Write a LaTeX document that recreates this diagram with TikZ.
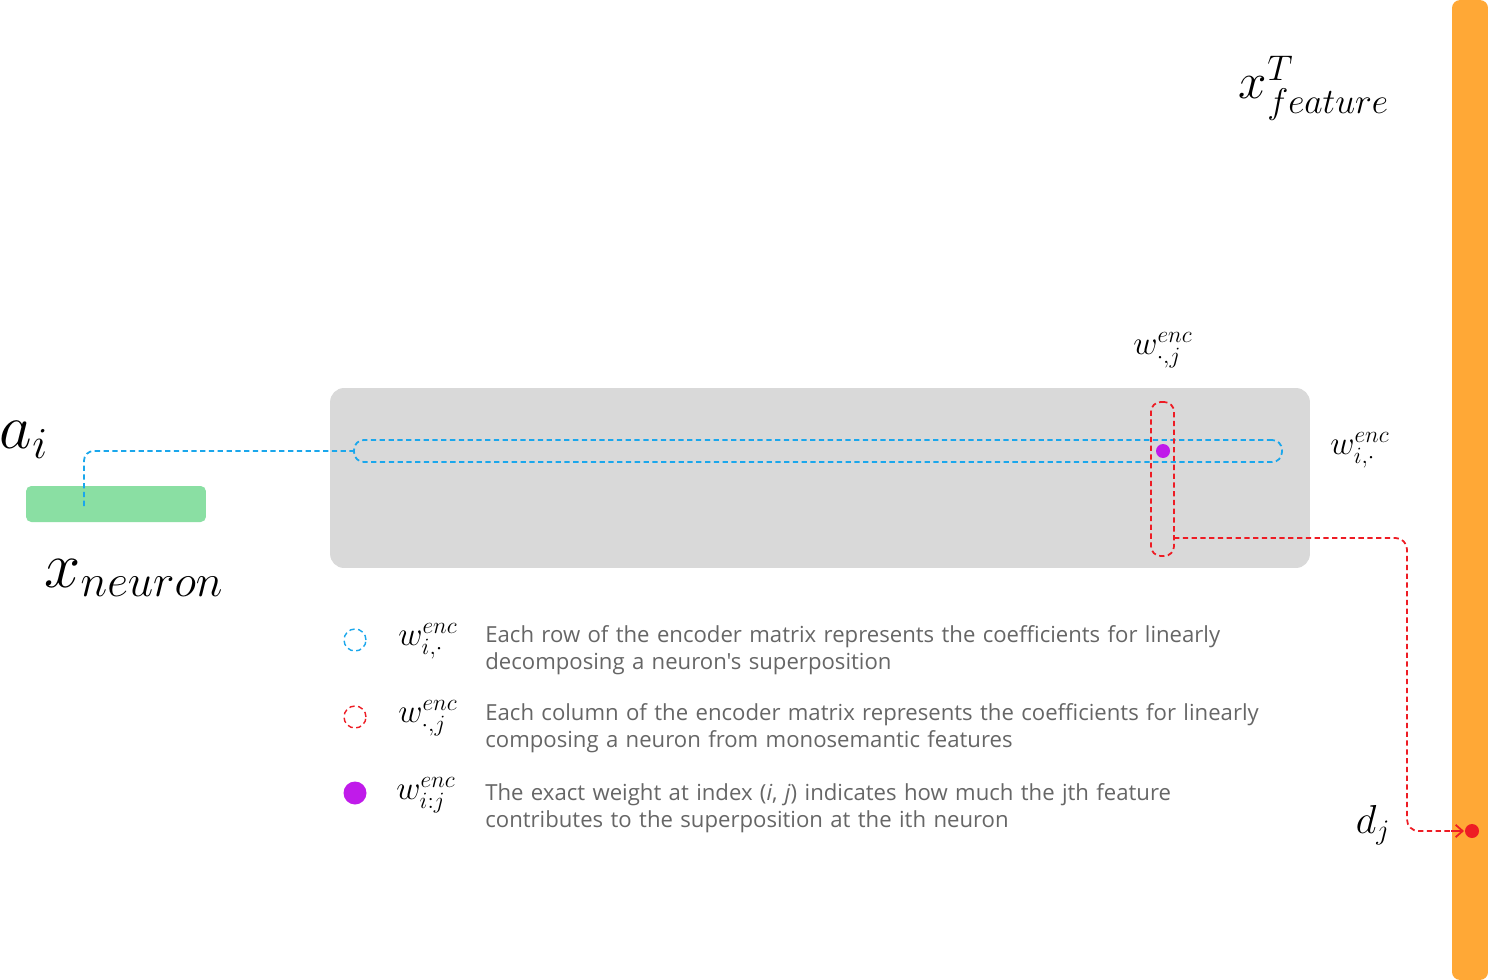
\RequirePackage{fix-cm}
\documentclass[tikz,border=0pt]{standalone}
\usepackage{amsmath,amssymb}
\usepackage{fontspec}
\usepackage{tikz}
\usepackage{xcolor}
\usetikzlibrary{arrows.meta,positioning,calc}
\newfontfamily\legendfont{Open Sans}
\definecolor{featorange}{HTML}{FFA836}
\definecolor{matgray}{HTML}{D9D9D9}
\definecolor{neurgreen}{HTML}{8ADFA3}
\definecolor{rowblue}{HTML}{1AA7EC}
\definecolor{colred}{HTML}{EE1C24}
\definecolor{wpurple}{HTML}{C01BEA}
\definecolor{legtext}{HTML}{666666}

\begin{document}
\begin{tikzpicture}[x=0.02cm, y=-0.02cm,
  block/.style={inner sep=0pt, outer sep=0pt},
  rowline/.style={draw=rowblue, line width=1pt, dash pattern=on 3pt off 2pt},
  colline/.style={draw=colred, line width=1pt, dash pattern=on 3pt off 2pt},
  lbl/.style={inner sep=0pt},
  legtxt/.style={anchor=base west, inner sep=0pt, text width=16cm, align=left, text=legtext,
    font=\legendfont\fontsize{12.6}{15.9}\selectfont}]
\useasboundingbox (0,0) rectangle (1488,980);
\fill[white] (0,0) rectangle (1488,980);
\node[block, fill=featorange, rounded corners=4.5pt, minimum width=0.72cm, minimum height=19.6cm] (feat) at (1470,490) {};
\node[block, fill=matgray, rounded corners=8pt, minimum width=19.6cm, minimum height=3.6cm] (wenc) at (820,478) {};
\node[block, fill=neurgreen, rounded corners=3pt, minimum width=3.6cm, minimum height=0.72cm] (neuron) at (116,504) {};
\node[block, rowline, rounded corners=5.5pt, minimum width=18.56cm, minimum height=0.44cm] (row) at (818,451) {};
\node[block, colline, rounded corners=5.5pt, minimum width=0.46cm, minimum height=3.08cm] (col) at (1162.5,479) {};
\node[block, circle, fill=wpurple, minimum size=0.28cm] (wij) at (1163,451) {};
\node[block, circle, fill=colred, minimum size=0.28cm] (dj) at (1472,831) {};
\coordinate (ai) at (84,506);
\coordinate (colout) at (1174,538);
\coordinate (turn) at (1407,831);
\draw[rowline, rounded corners=5.5pt] (ai) |- (row.west);
\draw[colline, rounded corners=6.5pt] (colout) -| (turn) -- ($(dj.west)+(-3,0)$);
\draw[colred, line width=1pt, -{Straight Barb[length=4pt,width=7pt]}] ($(dj.west)+(-14,0)$) -- ($(dj.west)+(-1,0)$);

\node[lbl, font=\fontsize{36}{42}\selectfont] (alabel) at (24,440) {$a_i$};
\node[lbl, font=\fontsize{37}{44}\selectfont] (xneuron) at (134,578) {$x_{neuron}$};
\node[lbl, font=\fontsize{29}{34}\selectfont] (xfeat) at (1314,88) {$x^T_{feature}$};
\node[lbl, font=\fontsize{19}{23}\selectfont] (wcol) at (1163,350) {$w^{enc}_{\cdot,j}$};
\node[lbl, font=\fontsize{19}{23}\selectfont] (wrow) at (1360,450) {$w^{enc}_{i,\cdot}$};
\node[lbl, font=\fontsize{23}{28}\selectfont] (djlabel) at (1373,825) {$d_j$};

\node[block, circle, rowline, line width=0.8pt, minimum size=0.44cm] (legrow) at (355,640) {};
\node[block, circle, colline, line width=0.8pt, minimum size=0.44cm] (legcol) at (355,717) {};
\node[block, circle, fill=wpurple, minimum size=0.46cm] (legdot) at (355,793) {};
\node[lbl, font=\fontsize{19}{23}\selectfont] (legrowsym) at (428,641) {$w^{enc}_{i,\cdot}$};
\node[lbl, font=\fontsize{19}{23}\selectfont] (legcolsym) at (428,718) {$w^{enc}_{\cdot,j}$};
\node[lbl, font=\fontsize{19}{23}\selectfont] (legdotsym) at (426,795) {$w^{enc}_{i:j}$};
\node[legtxt] (legrowtxt) at (485,642) {Each row of the encoder matrix represents the coefficients for linearly\\decomposing a neuron's superposition};
\node[legtxt] (legcoltxt) at (485,720) {Each column of the encoder matrix represents the coefficients for linearly\\composing a neuron from monosemantic features};
\node[legtxt] (legdottxt) at (485,800) {The exact weight at index (\textit{i}, \textit{j}) indicates how much the jth feature\\contributes to the superposition at the ith neuron};
\end{tikzpicture}
\end{document}
